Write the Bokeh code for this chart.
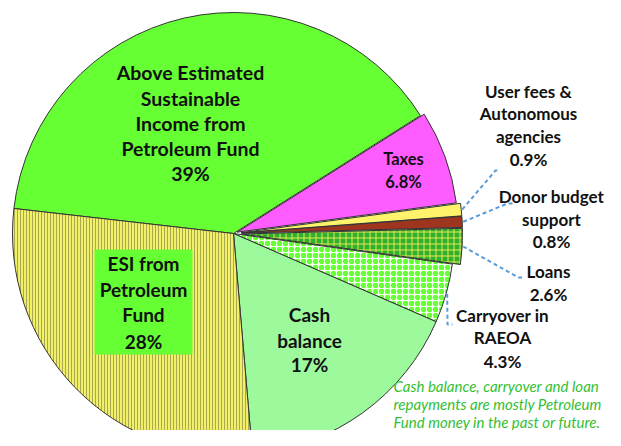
import math
from bokeh.plotting import figure
from bokeh.models import Range1d, ColumnDataSource
from bokeh.core.properties import value
from bokeh.embed import file_html
from bokeh.resources import INLINE

# ---------------- data ----------------
categories = ["Above Estimated Sustainable Income from Petroleum Fund", "Taxes",
              "User fees & Autonomous agencies", "Donor budget support", "Loans",
              "Carryover in RAEOA", "Cash balance", "ESI from Petroleum Fund"]
shares = [39, 6.8, 0.9, 0.8, 2.6, 4.3, 17, 28]
pct_labels = ["39%", "6.8%", "0.9%", "0.8%", "2.6%", "4.3%", "17%", "28%"]
label_lines = [["Above Estimated", "Sustainable", "Income from", "Petroleum Fund"],
               ["Taxes"],
               ["User fees &", "Autonomous", "agencies"],
               ["Donor budget", "support"],
               ["Loans"],
               ["Carryover in", "RAEOA"],
               ["Cash", "balance"],
               ["ESI from", "Petroleum", "Fund"]]
note_lines = ["Cash balance, carryover and loan",
              "repayments are mostly Petroleum",
              "Fund money in the past or future."]

# ---------------- style ----------------
fills = ["#66FF33", "#FF5CFF", "#FFF36B", "#A0351F", "#2FB02F", "#FFFFFF", "#9CF99C", "#F2F068"]
hatches = [None, None, None, None, "+", "o", None, "|"]
hatch_colors = [None, None, None, None, "#E8E850", "#66FF33", None, "#A8A850"]
hatch_scales = [1, 1, 1, 1, 6, 6, 1, 3]
hatch_weights = [1, 1, 1, 1, 1, 2.5, 1, 1]
explode = [0, 4, 8, 8, 8, 0, 0, 0]

W, H = 605, 430
TEXT_DY = -1
def X(x): return x
def Y(y): return H - y
def TY(y): return H - (y + TEXT_DY)

cx, cy = X(233), Y(233)
R = 221
start_deg = 173.5

p = figure(width=W, height=H, output_backend="svg", toolbar_location=None,
           x_range=Range1d(0, W), y_range=Range1d(0, H), min_border=0)
p.axis.visible = False
p.grid.visible = False
p.outline_line_color = None
p.background_fill_color = "white"

total = sum(shares)
cum = 0.0
mids = []
for i, s in enumerate(shares):
    a0 = start_deg - cum / total * 360.0
    a1 = a0 - s / total * 360.0
    cum += s
    mid = math.radians((a0 + a1) / 2)
    mids.append(mid)
    ox = cx + explode[i] * math.cos(mid)
    oy = cy + explode[i] * math.sin(mid)
    kw = dict(fill_color=fills[i], line_color="#333333", line_width=1)
    if hatches[i]:
        kw.update(hatch_pattern=hatches[i], hatch_color=hatch_colors[i],
                  hatch_scale=hatch_scales[i], hatch_weight=hatch_weights[i])
    p.wedge(x=[ox], y=[oy], radius=R, start_angle=math.radians(a0),
            end_angle=math.radians(a1), direction="clock", **kw)

# ESI label background box
p.quad(left=[X(94)], right=[X(192)], top=[Y(249)], bottom=[Y(354)],
       fill_color="#66FF33", line_color=None)

# leader lines (start on slice edge, elbow near label)
elbows = {2: [(495, 170), (499, 170)], 3: [(507, 203), (512, 203)],
          4: [(518, 277), (523, 277)], 5: [(447, 324), (452, 324)]}
for i, pts in elbows.items():
    r = R + explode[i] + 1
    sx = cx + r * math.cos(mids[i])
    sy = cy + r * math.sin(mids[i])
    xs = [sx] + [X(a) for a, b in pts]
    ys = [sy] + [Y(b) for a, b in pts]
    p.line(xs, ys, line_color="#5B9BD5", line_width=2, line_dash="4 3")

# label layout (reference pixel positions): center x, line y's, font size
layout = [(190, [73, 99, 124, 149, 174], 19.5),
          (403, [159, 182], 16.5),
          (528, [92, 114, 137, 160], 17),
          (551, [197, 220, 242], 17),
          (548, [272, 295], 17),
          (502, [316, 338, 362], 17),
          (309, [315, 341, 365], 19),
          (143, [264, 290, 315, 342], 19)]

for i, (lx, lys, fs) in enumerate(layout):
    texts = label_lines[i] + [pct_labels[i]]
    src = ColumnDataSource(dict(x=[X(lx)] * len(texts), y=[TY(v) for v in lys], t=texts))
    p.text(x="x", y="y", text="t", source=src, text_align="center",
           text_baseline="middle", text_font=value("Lato"), text_font_style="bold",
           text_font_size=f"{fs}px", text_color="#111111")

note_y = [386, 404, 422]
src = ColumnDataSource(dict(x=[X(393)] * 3, y=[TY(v) for v in note_y], t=note_lines))
p.text(x="x", y="y", text="t", source=src, text_align="left", text_baseline="middle",
       text_font=value("Lato"), text_font_style="italic", text_font_size="15px",
       text_color="#33C033")

open("out.html", "w").write(file_html(p, INLINE))
